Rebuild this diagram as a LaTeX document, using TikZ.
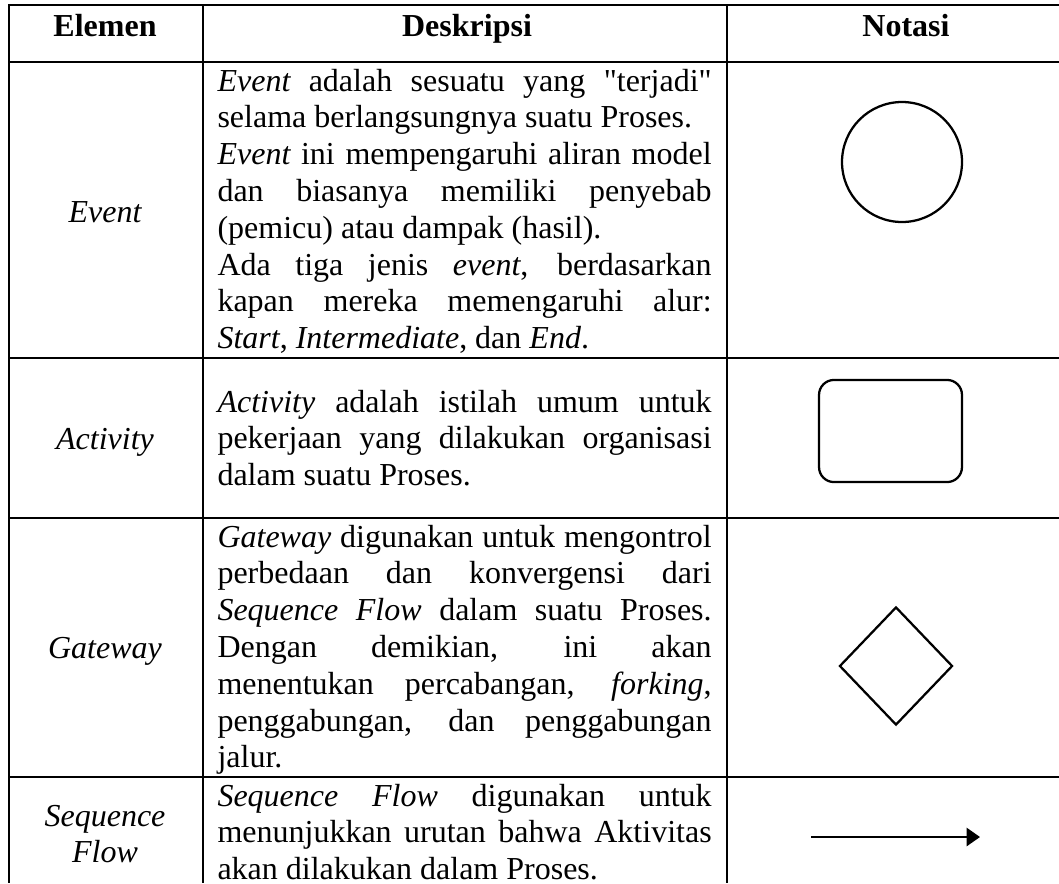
\documentclass[tikz,border=0pt]{standalone}
\usepackage{fontspec}
\setmainfont{Liberation Serif}[Ligatures=TeXOff]
\usepackage{tikz}
\usetikzlibrary{shapes.geometric,arrows.meta}
\definecolor{ink}{HTML}{000000}
\newcommand{\term}[1]{{\itshape #1}}
\newcommand{\deskbox}[1]{\parbox[t]{185.3pt}{\tolerance=10000\hbadness=10000 #1}}
\tikzset{
  grid/.style={draw=ink, line width=0.75pt},
  shp/.style={draw=ink, line width=0.85pt, inner sep=0pt},
  flow/.style={draw=ink, line width=0.8pt, -{Triangle[length=5pt,width=6.8pt]}},
  txt/.style={inner sep=0pt, font=\fontsize{12pt}{13.8pt}\selectfont},
  head/.style={txt, anchor=base, font=\fontsize{12pt}{13.8pt}\selectfont\bfseries},
  lab/.style={txt, anchor=base, font=\fontsize{12pt}{13.8pt}\selectfont\itshape},
  desc/.style={txt, anchor=base west},
}
\begin{document}
\begin{tikzpicture}[x=0.375pt, y=-0.375pt]
  \useasboundingbox (0,0) rectangle (1059,883);
  % table lines
  \draw[grid] (1059,5) -| (9,883);
  \foreach \yy in {62,358,518,777} \draw[grid] (9,\yy) -- (1059,\yy);
  \foreach \xx in {203,727} \draw[grid] (\xx,5) -- (\xx,883);
  % header
  \node[head] (hElemen) at (105,36) {Elemen};
  \node[head] (hDeskripsi) at (467,36) {Deskripsi};
  \node[head] (hNotasi) at (906,36) {Notasi};
  % event
  \node[lab] (lEvent) at (105,222) {Event};
  \node[desc] (dEvent) at (217,91) {\deskbox{\term{Event} adalah sesuatu yang "terjadi"\linebreak
    selama berlangsungnya suatu Proses.\par
    \term{Event} ini mempengaruhi aliran model\linebreak
    dan biasanya memiliki penyebab\linebreak
    (pemicu) atau dampak (hasil).\par
    Ada tiga jenis \term{event}, berdasarkan\linebreak
    kapan mereka memengaruhi alur:\linebreak
    \term{Start}, \term{Intermediate}, dan \term{End}.}};
  \node[shp, circle, minimum size=45pt] (nEvent) at (902,162) {};
  % activity
  \node[lab] (lActivity) at (105,449) {Activity};
  \node[desc] (dActivity) at (217,412) {\deskbox{\term{Activity} adalah istilah umum untuk\linebreak
    pekerjaan yang dilakukan organisasi\linebreak
    dalam suatu Proses.}};
  \node[shp, rounded corners=5.6pt, minimum width=53.6pt, minimum height=38.3pt] (nActivity) at (890.5,431) {};
  % gateway
  \node[lab] (lGateway) at (105,658) {Gateway};
  \node[desc] (dGateway) at (217,547) {\deskbox{\term{Gateway} digunakan untuk mengontrol\linebreak
    perbedaan dan konvergensi dari\linebreak
    \term{Sequence Flow} dalam suatu Proses.\linebreak
    Dengan demikian, ini akan\linebreak
    menentukan percabangan, \term{forking},\linebreak
    penggabungan, dan penggabungan\linebreak
    jalur.}};
  \node[shp, diamond, minimum width=42.4pt, minimum height=44.3pt] (nGateway) at (896,666) {};
  % sequence flow
  \node[lab] (lFlow) at (105,826) {\parbox[t]{70pt}{\centering Sequence\\Flow}};
  \node[desc] (dFlow) at (217,806) {\deskbox{\term{Sequence Flow} digunakan untuk\linebreak
    menunjukkan urutan bahwa Aktivitas\linebreak
    akan dilakukan dalam Proses.}};
  \coordinate (fStart) at (811,837);
  \coordinate (fEnd) at (980,837);
  \draw[flow] (fStart) -- (fEnd);
\end{tikzpicture}
\end{document}
